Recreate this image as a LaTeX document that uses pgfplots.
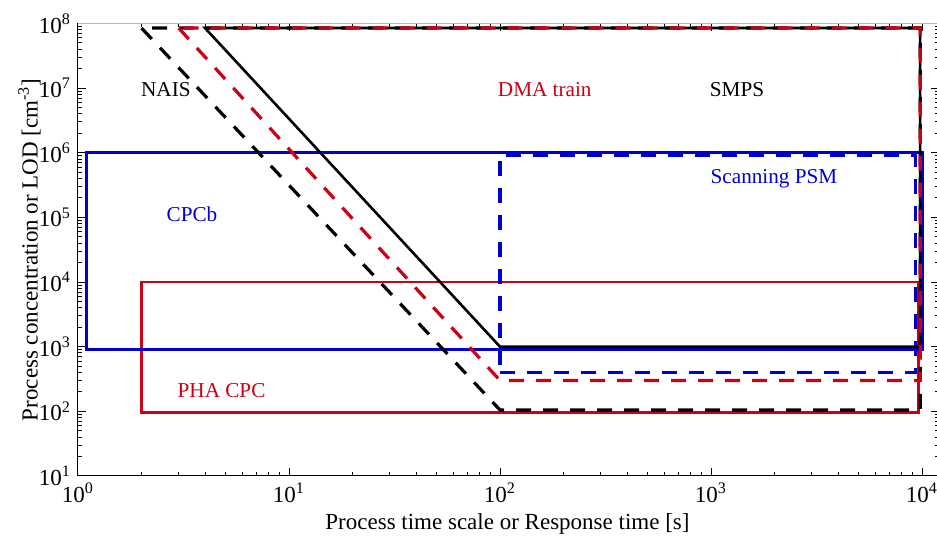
\documentclass[border=0pt]{standalone}
\usepackage{fontspec}
\setmainfont{Liberation Serif}
\usepackage{pgfplots}
\pgfplotsset{compat=1.18}
\definecolor{lodred}{RGB}{204,0,20}
\definecolor{lodblue}{RGB}{0,0,210}

\begin{document}
\begin{tikzpicture}[font=\fontsize{11.5}{13}\selectfont,
  annot/.style={anchor=base, font=\fontsize{10.6}{12}\selectfont}]
\begin{axis}[
  name=ax,
  scale only axis,
  width=430.35pt, height=226.25pt,
  xmode=log, ymode=log,
  xmin=1, xmax=1.2e4, ymin=10, ymax=1e8,
  xtick={1,10,100,1000,10000},
  xticklabels={10\textsuperscript{0},10\textsuperscript{1},10\textsuperscript{2},10\textsuperscript{3},10\textsuperscript{4}},
  ytick={1e1,1e2,1e3,1e4,1e5,1e6,1e7,1e8},
  yticklabels={10\textsuperscript{1},10\textsuperscript{2},10\textsuperscript{3},10\textsuperscript{4},10\textsuperscript{5},10\textsuperscript{6},10\textsuperscript{7},10\textsuperscript{8}},
  tick align=inside,
  major tick length=4pt, minor tick length=2pt,
  axis line style={line width=0.5pt},
  every tick/.style={line width=0.5pt, black},
  xlabel={Process time scale or Response time [s]},
  ylabel={Process concentration or LOD [cm\textsuperscript{-3}]},
  xlabel style={at={(axis description cs:0.499,0)}, anchor=base, yshift=-27pt},
  ylabel style={at={(axis description cs:-0.047,0.5)}, anchor=base},
  dashstyle/.style={line width=1.6pt, dash pattern=on 7.5pt off 6pt},
]
% PHA CPC
\addplot[lodred, line width=1.4pt, line join=miter] coordinates {(2,95) (9600,95) (9600,1e4) (2,1e4)} -- cycle;
% CPCb
\addplot[lodblue, line width=1.5pt, line join=miter] coordinates {(1.1,900) (10000,900) (10000,1e6) (1.1,1e6)} -- cycle;
% Scanning PSM
\addplot[lodblue, dashstyle] coordinates {(100,400) (9300,400) (9300,9e5) (100,9e5)} -- cycle;
% SMPS
\addplot[black, line width=1.3pt, line join=miter] coordinates {(4,8.5e7) (100,1e3) (9800,1e3) (9800,8.5e7)} -- cycle;
% NAIS
\addplot[black, dashstyle] coordinates {(2,8.5e7) (100,105) (9800,105) (9800,8.5e7)} -- cycle;
% DMA train
\addplot[lodred, dashstyle] coordinates {(3,8.5e7) (100,300) (9800,300) (9800,8.5e7)} -- cycle;

\node[annot, text=black] at (axis cs:2.61,7.3e6) {NAIS};
\node[annot, text=lodred] at (axis cs:163,7.3e6) {DMA train};
\node[annot, text=black] at (axis cs:1328,7.3e6) {SMPS};
\node[annot, text=lodblue] at (axis cs:1989,3.4e5) {Scanning PSM};
\node[annot, text=lodblue] at (axis cs:3.47,8.5e4) {CPCb};
\node[annot, text=lodred] at (axis cs:4.79,161) {PHA CPC};
\end{axis}
\draw[gray!55, line width=0.6pt] (ax.north west) -- (ax.north east);
\pgfresetboundingbox
\path ([xshift=-39pt, yshift=-31pt]ax.south west) rectangle ([xshift=-0.85pt, yshift=11.75pt]ax.north east);
\end{tikzpicture}
\end{document}
